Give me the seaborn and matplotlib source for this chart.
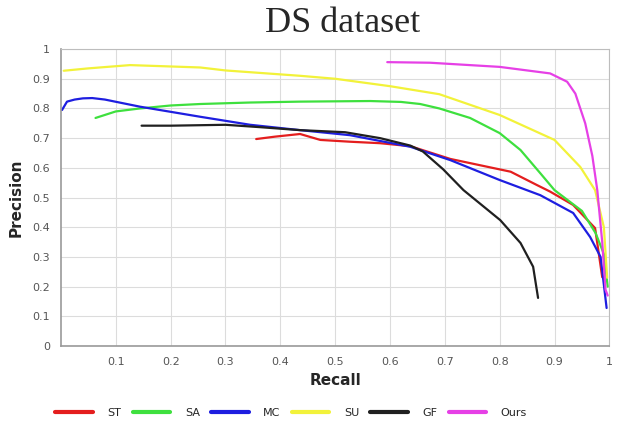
import pandas as pd
import seaborn as sns
import matplotlib.pyplot as plt

# --- datos ---
st_recall = [0.356, 0.39, 0.436, 0.473, 0.527, 0.582, 0.637, 0.71, 0.82, 0.868, 0.892, 0.934, 0.974, 0.987]
st_prec = [0.697, 0.705, 0.714, 0.694, 0.688, 0.683, 0.673, 0.63, 0.587, 0.542, 0.52, 0.475, 0.397, 0.232]

sa_recall = [0.063, 0.1, 0.144, 0.2, 0.254, 0.345, 0.436, 0.564, 0.62, 0.655, 0.69, 0.746, 0.80,
             0.838, 0.874, 0.90, 0.95, 0.975, 0.99, 0.997]
sa_prec = [0.768, 0.79, 0.80, 0.81, 0.815, 0.82, 0.823, 0.825, 0.822, 0.815, 0.80, 0.768, 0.717,
           0.66, 0.582, 0.525, 0.455, 0.38, 0.31, 0.2]

mc_recall = [0.002, 0.011, 0.025, 0.04, 0.057, 0.08, 0.144, 0.254, 0.345, 0.436, 0.527, 0.637,
             0.71, 0.80, 0.874, 0.934, 0.965, 0.984, 0.995]
mc_prec = [0.795, 0.823, 0.83, 0.834, 0.835, 0.83, 0.806, 0.772, 0.745, 0.727, 0.71, 0.671,
           0.626, 0.559, 0.508, 0.448, 0.367, 0.30, 0.128]

su_recall = [0.005, 0.05, 0.126, 0.254, 0.3, 0.436, 0.5, 0.6, 0.69, 0.80, 0.90, 0.947, 0.974, 0.99, 0.996]
su_prec = [0.927, 0.935, 0.946, 0.938, 0.928, 0.91, 0.90, 0.875, 0.848, 0.778, 0.694, 0.603, 0.525, 0.40, 0.23]

gf_recall = [0.147, 0.2, 0.3, 0.363, 0.436, 0.518, 0.582, 0.637, 0.66, 0.697, 0.734, 0.801, 0.838, 0.861, 0.870]
gf_prec = [0.742, 0.742, 0.745, 0.737, 0.727, 0.72, 0.70, 0.675, 0.655, 0.595, 0.525, 0.424, 0.347, 0.267, 0.162]

ours_recall = [0.595, 0.673, 0.80, 0.892, 0.923, 0.938, 0.956, 0.969, 0.978, 0.987, 0.993, 0.997]
ours_prec = [0.956, 0.954, 0.94, 0.918, 0.89, 0.85, 0.75, 0.64, 0.525, 0.35, 0.19, 0.17]

metodos = ["ST", "SA", "MC", "SU", "GF", "Ours"]
colores = {"ST": "#e41e1e", "SA": "#3ee03e", "MC": "#1e1ee0",
           "SU": "#f2f23a", "GF": "#202020", "Ours": "#e640e6"}

series = {
    "ST": (st_recall, st_prec),
    "SA": (sa_recall, sa_prec),
    "MC": (mc_recall, mc_prec),
    "SU": (su_recall, su_prec),
    "GF": (gf_recall, gf_prec),
    "Ours": (ours_recall, ours_prec),
}

filas = []
for m in metodos:
    r, p = series[m]
    for i, (a, b) in enumerate(zip(r, p)):
        filas.append({"metodo": m, "orden": i, "Recall": a, "Precision": b})
df = pd.DataFrame(filas)

# --- figura ---
sns.set_style("whitegrid", {"grid.color": "#dcdcdc", "axes.edgecolor": "#bdbdbd"})
fig = plt.figure(figsize=(6.26, 4.23), dpi=100)
ax = fig.add_axes([0.0974, 0.182, 0.876, 0.702])

sns.lineplot(data=df, x="Recall", y="Precision", hue="metodo", hue_order=metodos,
             palette=colores, sort=False, estimator=None, linewidth=1.6, ax=ax)

ax.set_xlim(0, 1)
ax.set_ylim(0, 1)
ax.set_xticks([0.1 * i for i in range(1, 11)])
ax.set_xticklabels(["0.1", "0.2", "0.3", "0.4", "0.5", "0.6", "0.7", "0.8", "0.9", "1"])
ax.set_yticks([0.1 * i for i in range(0, 11)])
ax.set_yticklabels(["0", "0.1", "0.2", "0.3", "0.4", "0.5", "0.6", "0.7", "0.8", "0.9", "1"])
ax.tick_params(axis="both", labelsize=8, colors="#555555", length=0, pad=8)
for lado in ["left", "bottom"]:
    ax.spines[lado].set_color("#999999")
    ax.spines[lado].set_linewidth(1.2)

ax.set_xlabel("Recall", fontsize=11, fontweight="bold", labelpad=4)
ax.set_ylabel("Precision", fontsize=11, fontweight="bold", labelpad=6)
fig.text(0.548, 0.945, "DS dataset", ha="center", va="center",
         fontsize=26, family="Liberation Serif")

sns.move_legend(ax, "upper center", bbox_to_anchor=(0.42, -0.175), ncol=6, frameon=False,
                title=None, fontsize=8, handlelength=3.4, columnspacing=1.0, handletextpad=1.3,
                prop={"family": ["Liberation Sans Narrow", "DejaVu Sans"], "size": 8})
for linea in ax.get_legend().get_lines():
    linea.set_linewidth(3)

fig.savefig("out.png", dpi=100)
plt.close(fig)
